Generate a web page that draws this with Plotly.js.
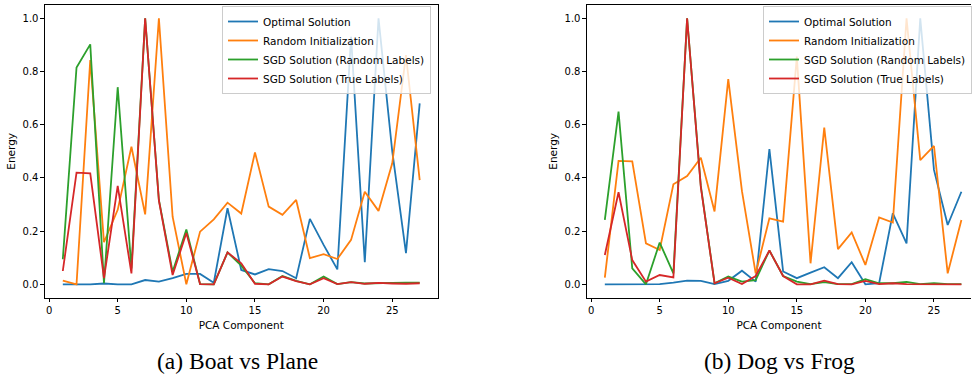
<!DOCTYPE html>
<html>
<head>
<meta charset="utf-8">
<script src="https://cdn.plot.ly/plotly-3.0.1.min.js"></script>
<style>html,body{margin:0;padding:0;background:#fff;}#chart{width:972px;height:376px;}</style>
</head>
<body>
<div id="chart"></div>
<script>
const components = [1,2,3,4,5,6,7,8,9,10,11,12,13,14,15,16,17,18,19,20,21,22,23,24,25,26,27];
const seriesNames = ["Optimal Solution", "Random Initialization", "SGD Solution (Random Labels)", "SGD Solution (True Labels)"];
const captions = ["(a) Boat vs Plane", "(b) Dog vs Frog"];
const xTicks = [0,5,10,15,20,25];
const yTicks = [0,0.2,0.4,0.6,0.8,1.0];

// (a) Boat vs Plane
const boatOptimal = [0.0,0.0,0.0,0.003,0.0,0.0,0.016,0.01,0.023,0.039,0.039,0.006,0.286,0.054,0.037,0.057,0.05,0.023,0.246,0.148,0.056,0.93,0.083,1.0,0.5,0.117,0.68];
const boatRandomInit = [0.014,0.0,0.843,0.158,0.28,0.517,0.263,1.0,0.254,0.0,0.198,0.244,0.307,0.266,0.496,0.292,0.261,0.317,0.098,0.113,0.095,0.167,0.348,0.276,0.455,0.862,0.392];
const boatSgdRandom = [0.094,0.815,0.902,0.004,0.741,0.06,1.0,0.317,0.047,0.206,0.001,0.0,0.12,0.07,0.004,0.0,0.031,0.013,0.0,0.029,0.001,0.008,0.003,0.005,0.005,0.006,0.006];
const boatSgdTrue = [0.05,0.42,0.417,0.023,0.37,0.041,1.0,0.315,0.035,0.193,0.001,0.0,0.12,0.079,0.002,0.0,0.029,0.012,0.0,0.023,0.001,0.008,0.002,0.005,0.003,0.002,0.004];

// (b) Dog vs Frog
const dogOptimal = [0.0,0.0,0.0,0.0,0.001,0.006,0.014,0.013,0.001,0.013,0.051,0.01,0.508,0.048,0.023,0.044,0.064,0.023,0.083,0.0,0.004,0.267,0.154,1.0,0.43,0.223,0.348];
const dogRandomInit = [0.025,0.464,0.462,0.154,0.129,0.376,0.407,0.476,0.274,0.771,0.35,0.041,0.248,0.236,0.856,0.079,0.589,0.132,0.195,0.073,0.251,0.232,1.0,0.467,0.52,0.041,0.242];
const dogSgdRandom = [0.242,0.649,0.06,0.0,0.157,0.041,1.0,0.37,0.004,0.029,0.01,0.016,0.127,0.031,0.01,0.001,0.008,0.001,0.001,0.019,0.004,0.004,0.009,0.001,0.004,0.001,0.001];
const dogSgdTrue = [0.11,0.346,0.091,0.01,0.035,0.026,1.0,0.365,0.004,0.025,0.001,0.031,0.127,0.031,0.0,0.0,0.014,0.001,0.0,0.013,0.001,0.004,0.001,0.001,0.0,0.0,0.0];

const colors = ["#1f77b4", "#ff7f0e", "#2ca02c", "#d62728"];
const panelA = [boatOptimal, boatRandomInit, boatSgdRandom, boatSgdTrue];
const panelB = [dogOptimal, dogRandomInit, dogSgdRandom, dogSgdTrue];

const W = 972, H = 376;
const traces = [];
panelA.forEach((ys, i) => traces.push({
  x: components, y: ys, type: 'scatter', mode: 'lines', name: seriesNames[i],
  line: {color: colors[i], width: 1.8}, xaxis: 'x', yaxis: 'y', legend: 'legend'
}));
panelB.forEach((ys, i) => traces.push({
  x: components, y: ys, type: 'scatter', mode: 'lines', name: seriesNames[i],
  line: {color: colors[i], width: 1.8}, xaxis: 'x2', yaxis: 'y2', legend: 'legend2'
}));

const tickFont = {family: 'DejaVu Sans', size: 10, color: '#000'};
const titleFont = {family: 'DejaVu Sans', size: 10.5, color: '#000'};
function xAxis(domain, range, mirror) {
  return {domain: domain, range: range, tickvals: xTicks, ticks: 'outside', ticklen: 3.5, tickwidth: 1,
    tickcolor: '#000', showline: true, linecolor: '#000', linewidth: 1, mirror: mirror,
    showgrid: false, zeroline: false, tickfont: tickFont,
    title: {text: 'PCA Component', font: titleFont, standoff: 6}};
}
function yAxis(anchor, mirror) {
  return {domain: [1 - 297.6 / H, 1 - 5 / H], range: [-0.05, 1.05], tickvals: yTicks, tickformat: '.1f',
    ticks: 'outside', ticklen: 3.5, tickwidth: 1, tickcolor: '#000', showline: true, linecolor: '#000',
    linewidth: 1, mirror: mirror, showgrid: false, zeroline: false, tickfont: tickFont, anchor: anchor,
    title: {text: 'Energy', font: titleFont, standoff: 4}};
}
const legendBase = {
  bgcolor: 'rgba(255,255,255,0.8)', bordercolor: '#cccccc', borderwidth: 1,
  font: {family: 'DejaVu Sans', size: 10.5, color: '#000'}, xanchor: 'left', yanchor: 'top',
  tracegroupgap: 0, itemwidth: 30
};

const layout = {
  width: W, height: H, margin: {l: 0, r: 0, t: 0, b: 0},
  paper_bgcolor: '#fff', plot_bgcolor: '#fff', showlegend: true,
  xaxis: Object.assign(xAxis([45 / W, 438 / W], [-0.3, 28.3], true), {anchor: 'y'}),
  yaxis: yAxis('x', true),
  xaxis2: Object.assign(xAxis([587.6 / W, 1], [-0.3, 27.7], true), {anchor: 'y2'}),
  yaxis2: yAxis('x2', false),
  legend: Object.assign({}, legendBase, {x: 222 / W, y: 1 - 6 / H}),
  legend2: Object.assign({}, legendBase, {x: 764 / W, y: 1 - 6 / H}),
  annotations: [
    {text: captions[0], xref: 'paper', yref: 'paper', x: 238 / W, y: 1 - 361 / H, showarrow: false,
     xanchor: 'center', yanchor: 'middle', font: {family: 'Liberation Serif', size: 23.5, color: '#000'}},
    {text: captions[1], xref: 'paper', yref: 'paper', x: 780 / W, y: 1 - 361 / H, showarrow: false,
     xanchor: 'center', yanchor: 'middle', font: {family: 'Liberation Serif', size: 23.5, color: '#000'}}
  ]
};

Plotly.newPlot('chart', traces, layout, {staticPlot: true, displayModeBar: false});
</script>
</body>
</html>
